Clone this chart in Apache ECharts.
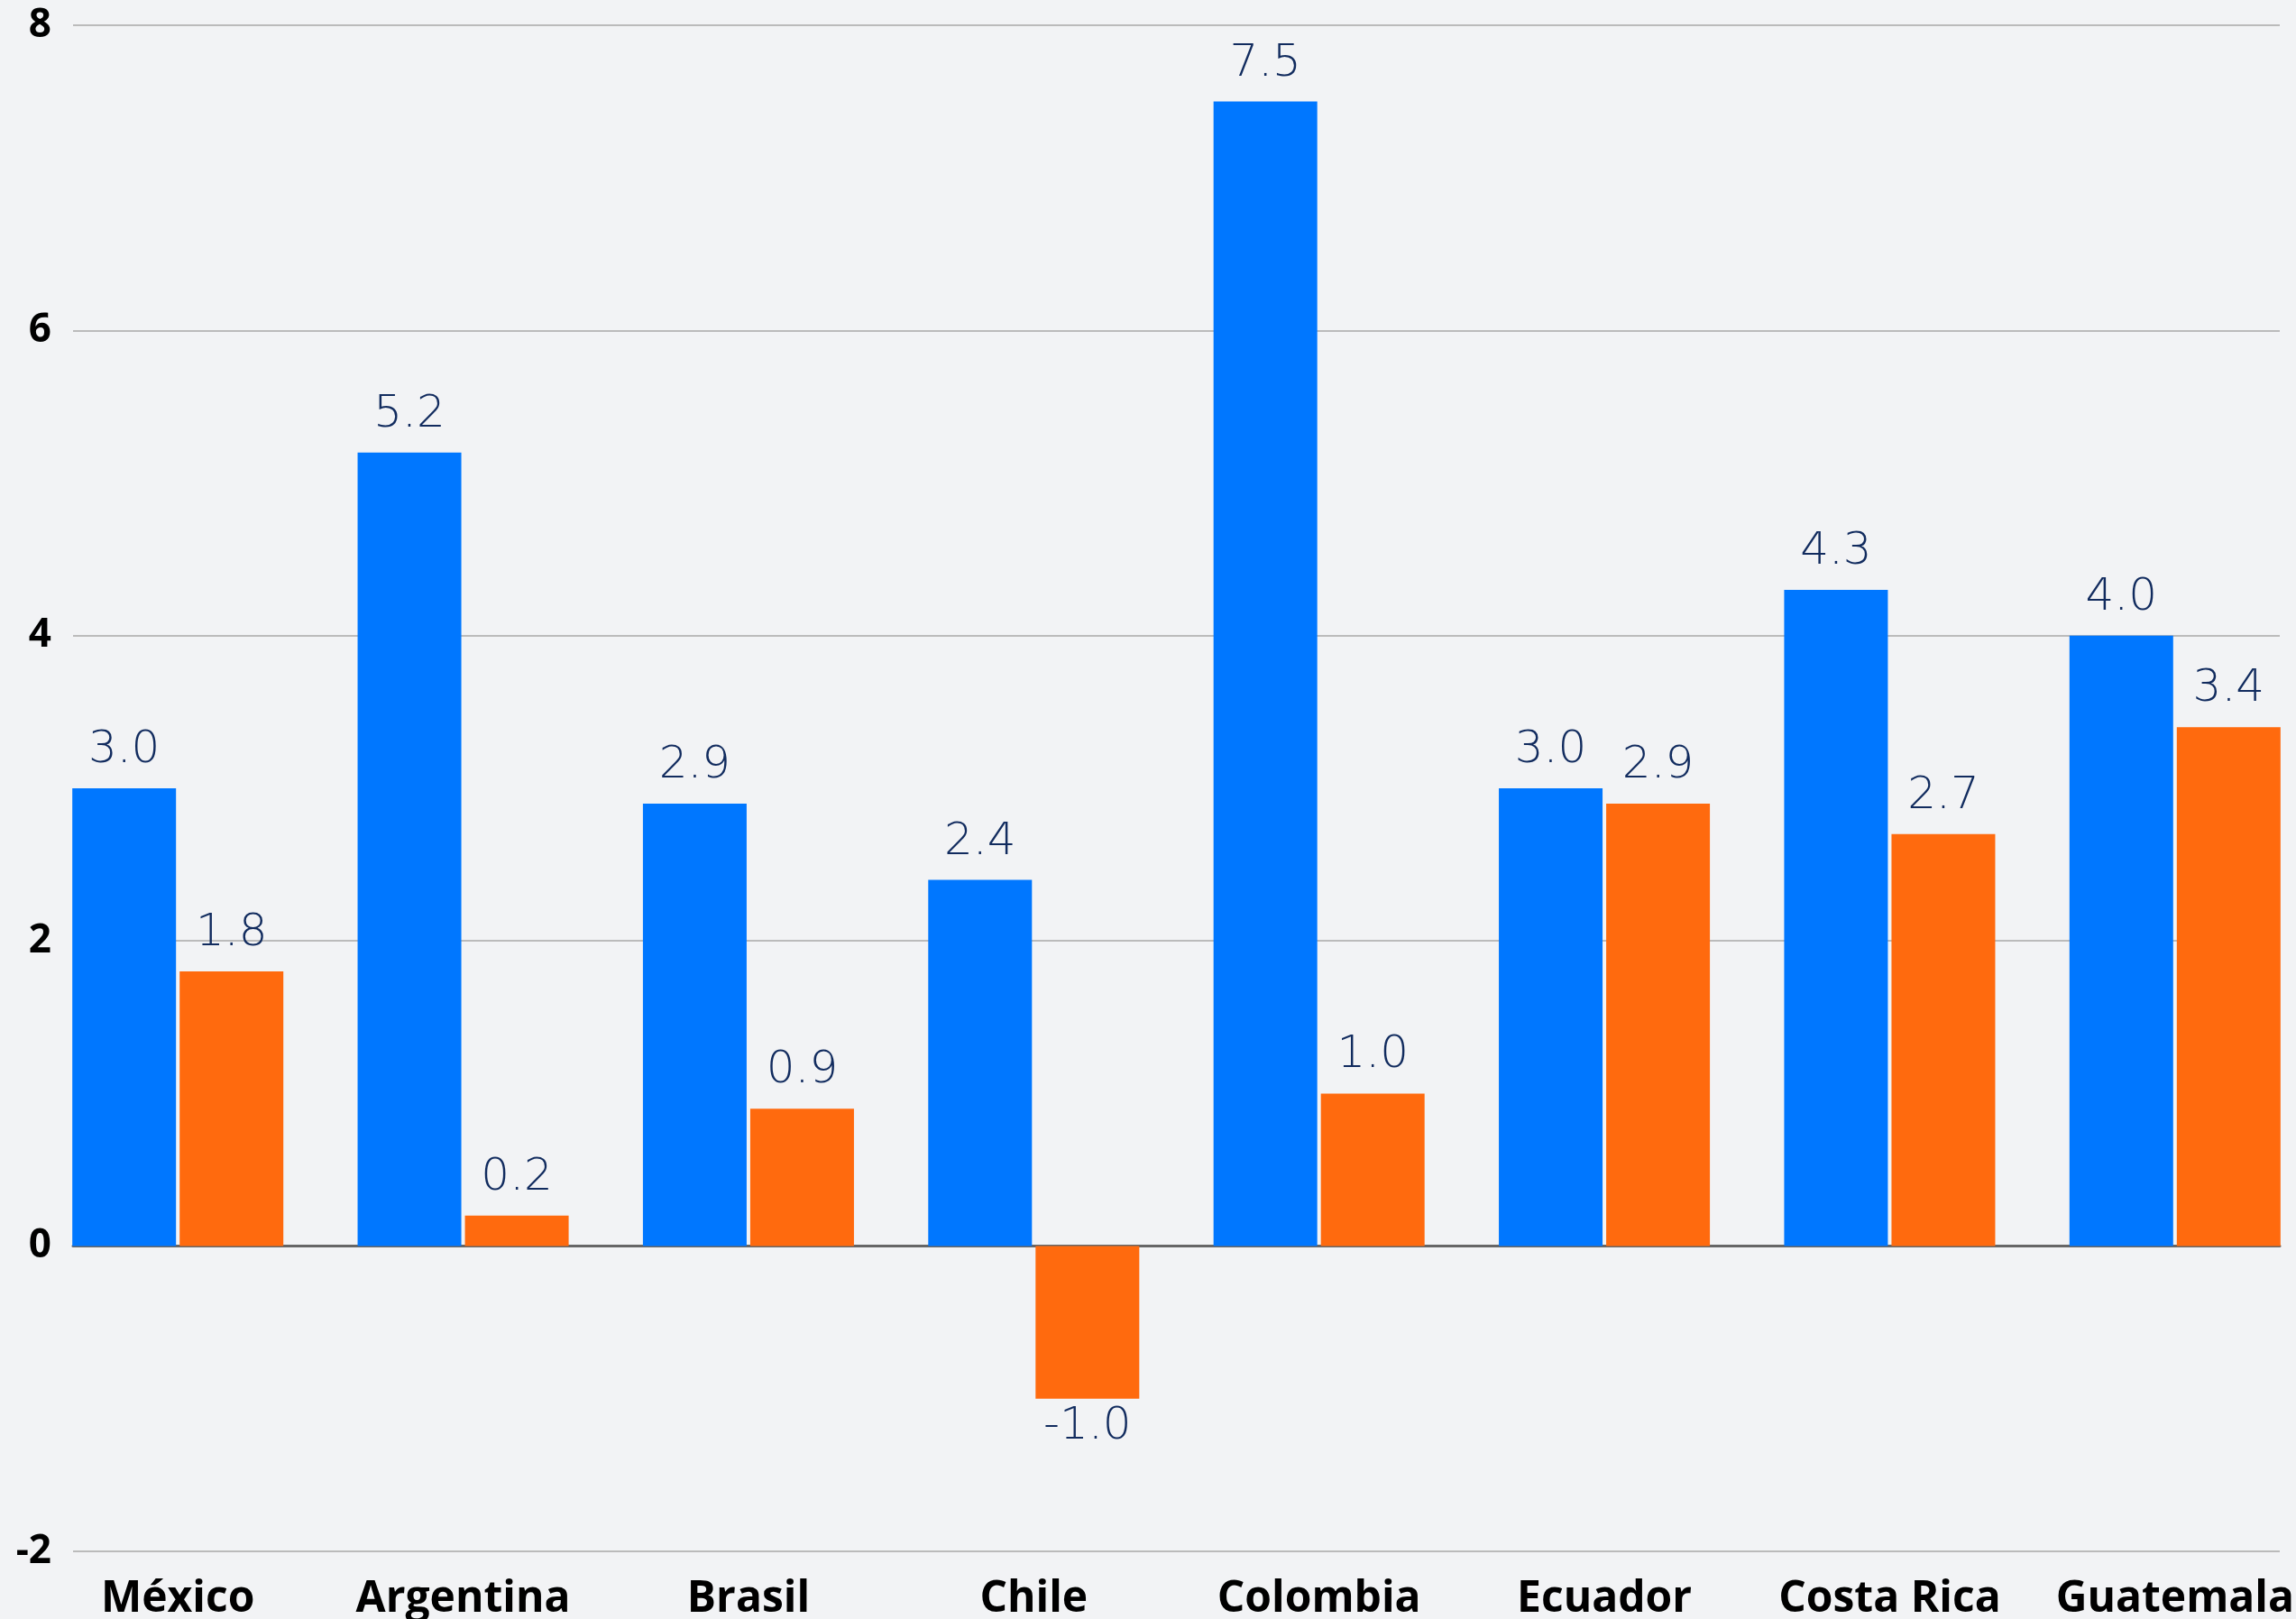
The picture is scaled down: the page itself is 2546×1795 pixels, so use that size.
<!DOCTYPE html>
<html>
<head>
<meta charset="utf-8">
<script src="https://cdn.jsdelivr.net/npm/echarts@6/dist/echarts.min.js"></script>
<style>
html,body{margin:0;padding:0;background:#F2F3F5;overflow:hidden;}
body{width:2546px;height:1795px;}
#c{width:2570px;height:1795px;}
</style>
</head>
<body>
<div id="c"></div>
<script>
const categories = ['México','Argentina','Brasil','Chile','Colombia','Ecuador','Costa Rica','Guatemala'];
const seriesA = [3.0, 5.2, 2.9, 2.4, 7.5, 3.0, 4.3, 4.0];
const seriesB = [1.8, 0.2, 0.9, -1.0, 1.0, 2.9, 2.7, 3.4];
const yTicks = [-2, 0, 2, 4, 6, 8];

const labelFont = {fontFamily:"'DejaVu Sans ExtraLight', 'DejaVu Sans'", fontWeight:200, fontSize:50, color:'#112B5E'};
function mk(vals){
  return vals.map(v => v < 0
    ? {value:v, label:{position:'bottom', distance:6}}
    : {value:v});
}
const chart = echarts.init(document.getElementById('c'), null, {renderer:'canvas'});
const TOP = 28, BOTTOM = 75;
chart.setOption({
  backgroundColor:'#F2F3F5',
  animation:false,
  grid:[
    {left:81, right:42, top:TOP, bottom:BOTTOM, containLabel:false, outerBoundsMode:'none'},
    {left:39, right:0, top:TOP, bottom:BOTTOM, containLabel:false, outerBoundsMode:'none'}
  ],
  xAxis:[
    {type:'category', gridIndex:0, data:categories, show:true,
      axisLine:{show:true, onZero:true, lineStyle:{color:'#666666', width:3}},
      axisTick:{show:false}, axisLabel:{show:false}, splitLine:{show:false}, z:1},
    {type:'category', gridIndex:1, data:categories,
      axisLine:{show:false}, axisTick:{show:false},
      axisLabel:{show:true, fontFamily:'Open Sans', fontWeight:'bold', fontSize:48, color:'#000', margin:29, interval:0}}
  ],
  yAxis:[
    {type:'value', gridIndex:0, min:yTicks[0], max:yTicks[yTicks.length-1], interval:2,
      axisLine:{show:false}, axisTick:{show:false},
      axisLabel:{fontFamily:'Open Sans', fontWeight:'bold', fontSize:44, color:'#000', margin:24,
        formatter: v => yTicks.includes(v) ? String(v) : ''},
      splitLine:{lineStyle:{color:'#BBBBBB', width:2}}},
    {type:'value', gridIndex:1, min:yTicks[0], max:yTicks[yTicks.length-1], interval:2, show:false,
      splitLine:{show:false}}
  ],
  series:[
    {type:'bar', xAxisIndex:1, yAxisIndex:1, data:mk(seriesA), barWidth:115, barGap:'3.5%',
      itemStyle:{color:'#0077FF'},
      label:{show:true, position:'top', distance:17, formatter:p=>p.value.toFixed(1), ...labelFont}},
    {type:'bar', xAxisIndex:1, yAxisIndex:1, data:mk(seriesB), barWidth:115, barGap:'3.5%',
      itemStyle:{color:'#FF6A0E'},
      label:{show:true, position:'top', distance:17, formatter:p=>p.value.toFixed(1), ...labelFont}}
  ]
});
</script>
</body>
</html>
